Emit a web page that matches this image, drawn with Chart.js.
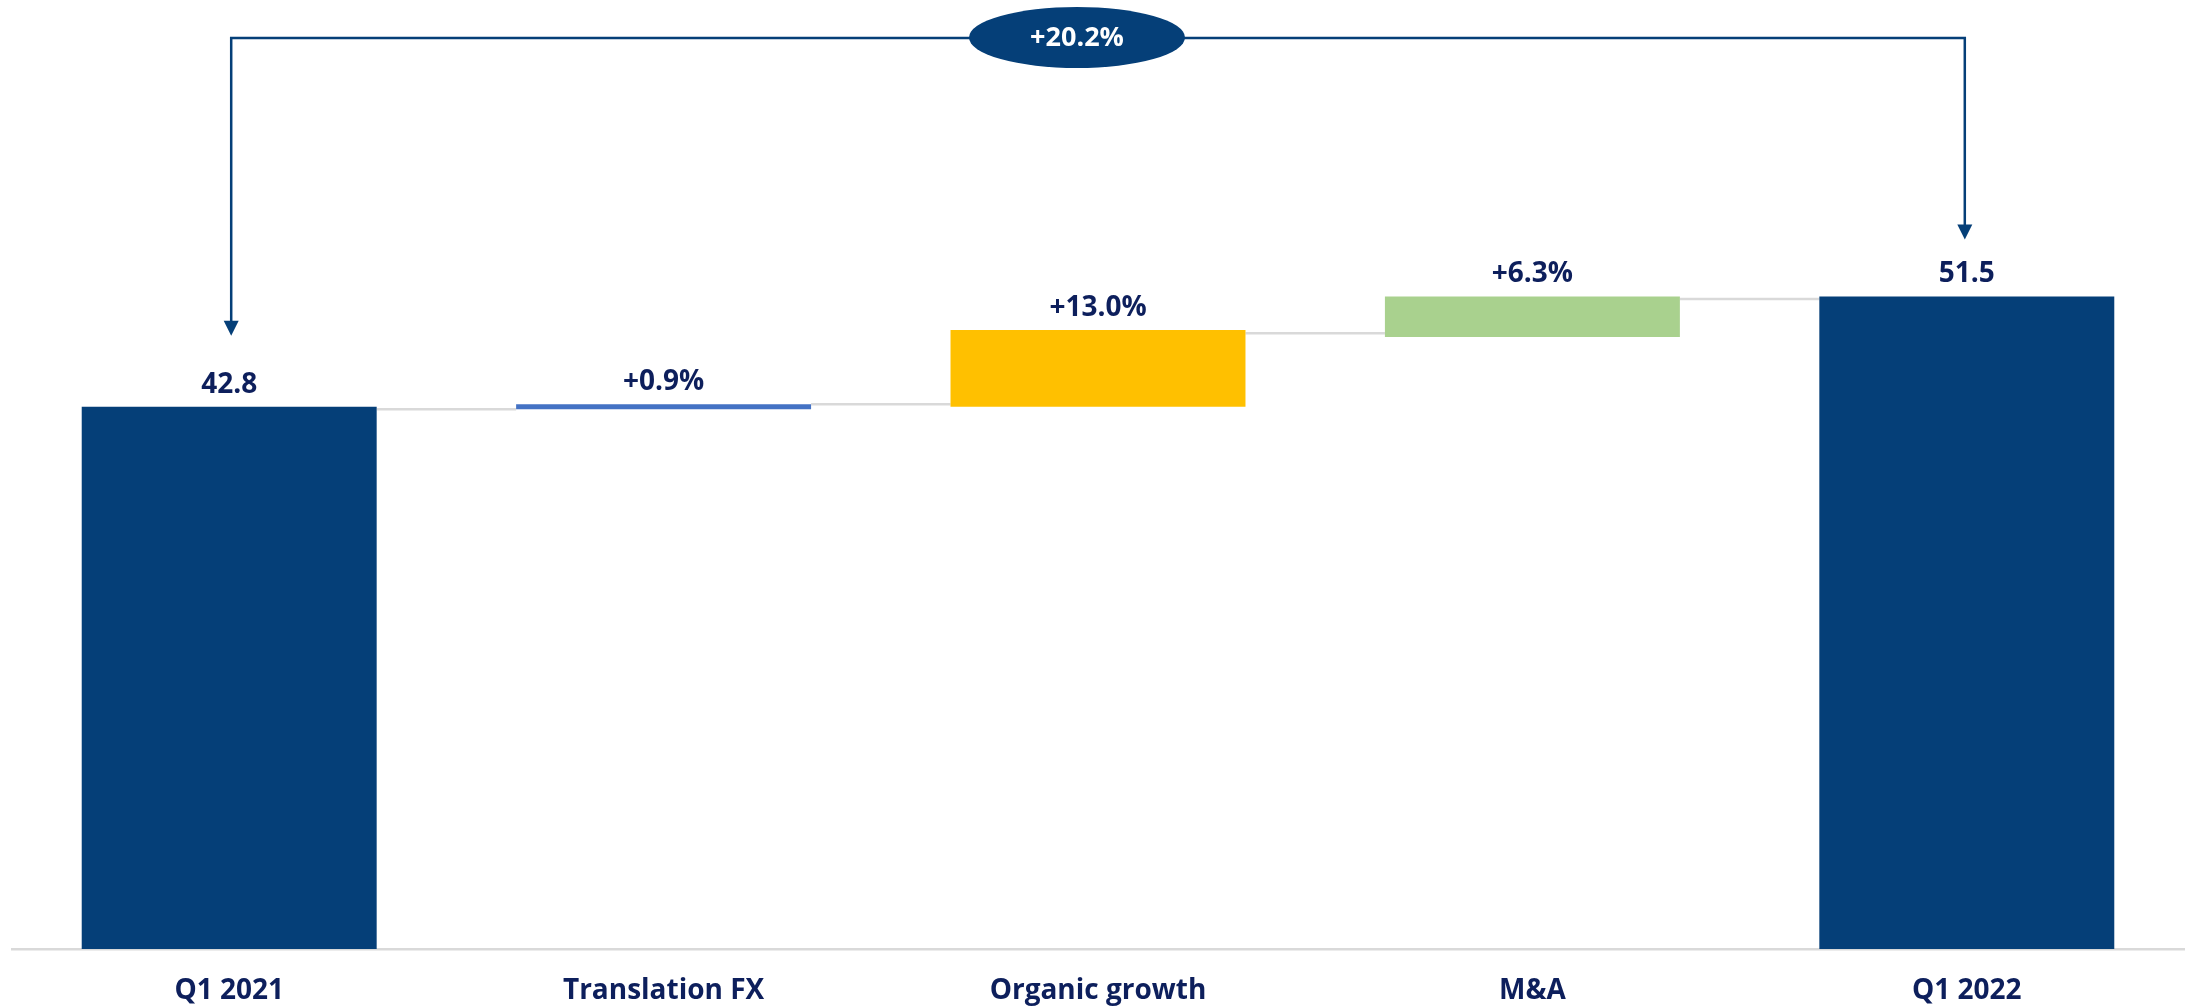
<!DOCTYPE html>
<html>
<head>
<meta charset="utf-8">
<script src="https://cdn.jsdelivr.net/npm/chart.js@4.4.1/dist/chart.umd.min.js"></script>
<style>
    html, body {
        margin: 0;
        padding: 0;
        background: #ffffff;
    }
    #wrap {
        width: 2186px;
        height: 1007px;
        position: relative;
    }
</style>
</head>
<body>
<div id="wrap"><canvas id="waterfall"></canvas></div>
<script>
const categories = ["Q1 2021", "Translation FX", "Organic growth", "M&A", "Q1 2022"];
const barStart = [0, 42.6, 42.8, 48.3, 0];
const barEnd = [42.8, 43.0, 48.85, 51.5, 51.5];
const valueLabels = ["42.8", "+0.9%", "+13.0%", "+6.3%", "51.5"];
const connectorLevels = [42.6, 43.0, 48.6, 51.3];
const totalChange = "+20.2%";

const NAVY = "#053f78";
const TEXT = "#0d1f5c";
const GREY = "#d9d9d9";
const barColors = [NAVY, "#4472c4", "#ffc000", "#a9d18e", NAVY];
const FONT = "'Open Sans', 'DejaVu Sans', sans-serif";

const waterfallExtras = {
    id: "waterfallExtras",
    beforeDatasetsDraw(chart) {
        const ctx = chart.ctx;
        const bars = chart.getDatasetMeta(0).data;
        const y = chart.scales.y;
        ctx.save();
        ctx.strokeStyle = GREY;
        ctx.lineWidth = 2.5;
        connectorLevels.forEach((level, i) => {
            const py = y.getPixelForValue(level);
            ctx.beginPath();
            ctx.moveTo(bars[i].x + bars[i].width / 2, py);
            ctx.lineTo(bars[i + 1].x - bars[i + 1].width / 2, py);
            ctx.stroke();
        });
        ctx.restore();
    },
    afterDatasetsDraw(chart) {
        const ctx = chart.ctx;
        const bars = chart.getDatasetMeta(0).data;
        const y = chart.scales.y;
        ctx.save();

        // value labels
        ctx.fillStyle = TEXT;
        ctx.font = `bold 28px ${FONT}`;
        ctx.textAlign = "center";
        ctx.textBaseline = "alphabetic";
        valueLabels.forEach((txt, i) => {
            ctx.fillText(txt, bars[i].x, y.getPixelForValue(barEnd[i]) - 14);
        });

        // bracket with arrows for the total change
        const top = chart.chartArea.top - 24;
        const first = bars[0];
        const last = bars[bars.length - 1];
        const xl = first.x + 2;
        const xr = last.x - 2;
        const tipL = y.getPixelForValue(barEnd[0]) - 71;
        const tipR = y.getPixelForValue(barEnd[barEnd.length - 1]) - 57;

        ctx.strokeStyle = NAVY;
        ctx.fillStyle = NAVY;
        ctx.lineWidth = 2.5;
        ctx.beginPath();
        ctx.moveTo(xl, tipL - 14);
        ctx.lineTo(xl, top);
        ctx.lineTo(xr, top);
        ctx.lineTo(xr, tipR - 14);
        ctx.stroke();

        [[xl, tipL], [xr, tipR]].forEach(([ax, ay]) => {
            ctx.beginPath();
            ctx.moveTo(ax - 7.5, ay - 15);
            ctx.lineTo(ax + 7.5, ay - 15);
            ctx.lineTo(ax, ay);
            ctx.closePath();
            ctx.fill();
        });

        const cx = (xl + xr) / 2 - 21;
        ctx.beginPath();
        ctx.ellipse(cx, top - 0.5, 108, 30.5, 0, 0, Math.PI * 2);
        ctx.fill();

        ctx.fillStyle = "#ffffff";
        ctx.font = `bold 27px ${FONT}`;
        ctx.textBaseline = "middle";
        ctx.fillText(totalChange, cx, top);

        ctx.restore();
    }
};

new Chart(document.getElementById("waterfall"), {
    type: "bar",
    data: {
        labels: categories,
        datasets: [{
            data: barStart.map((s, i) => [s, barEnd[i]]),
            backgroundColor: barColors,
            borderWidth: 0,
            borderSkipped: false,
            barPercentage: 0.679,
            categoryPercentage: 1
        }]
    },
    options: {
        responsive: true,
        maintainAspectRatio: false,
        animation: false,
        layout: {
            padding: {
                top: 62,
                left: 12,
                right: 2,
                bottom: 0
            }
        },
        plugins: {
            legend: { display: false },
            tooltip: { enabled: false }
        },
        scales: {
            x: {
                z: 1,
                afterFit(scale) {
                    scale.height = 58;
                },
                grid: {
                    display: false,
                    drawTicks: false
                },
                border: {
                    display: true,
                    color: GREY,
                    width: 2.5
                },
                ticks: {
                    padding: 25,
                    color: TEXT,
                    font: {
                        family: FONT,
                        size: 28,
                        weight: "bold"
                    }
                }
            },
            y: {
                display: false,
                min: 0,
                max: 70
            }
        }
    },
    plugins: [waterfallExtras]
});
</script>
</body>
</html>
